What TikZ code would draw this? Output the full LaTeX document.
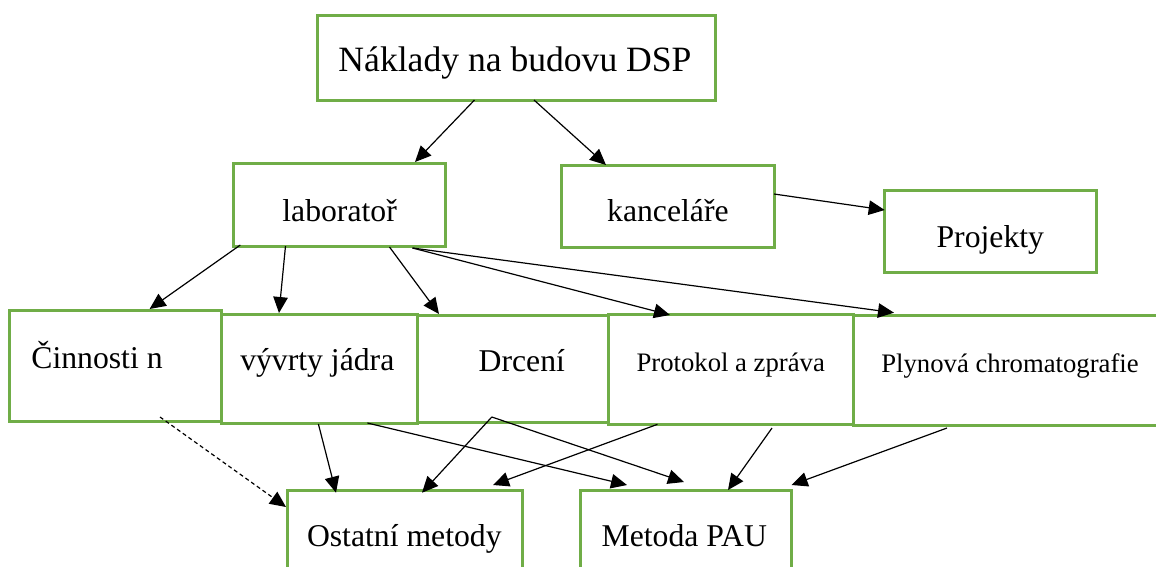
\documentclass[tikz,border=0pt]{standalone}
\usepackage{fontspec}
\setmainfont{Liberation Serif}
\usetikzlibrary{arrows.meta,calc}
\definecolor{boxgreen}{RGB}{112,173,71}
\tikzset{
  box/.style={draw=boxgreen, line width=3pt, rectangle, inner sep=0pt, outer sep=0pt, fill=white},
  txtbig/.style={inner sep=0pt, anchor=base, font=\fontsize{35.6}{40}\selectfont},
  txtmid/.style={inner sep=0pt, anchor=base, font=\fontsize{31.7}{36}\selectfont},
  txtsmall/.style={inner sep=0pt, anchor=base, font=\fontsize{26.7}{30}\selectfont},
  conn/.style={draw=black, line width=1.2pt, -{Triangle[length=16pt,width=14.5pt]}},
  dashconn/.style={conn, dash pattern=on 4pt off 3pt},
}
\begin{document}
\begin{tikzpicture}[x=1pt,y=-1pt]
\useasboundingbox (0,0) rectangle (1156,566);
\clip (0,0) rectangle (1156,566);
% boxes
\node[box, anchor=north west, minimum width=398pt, minimum height=85pt] (top) at (317,15) {};
\node[box, anchor=north west, minimum width=211.5pt, minimum height=83pt] (lab) at (233.5,163) {};
\node[box, anchor=north west, minimum width=212.4pt, minimum height=82pt] (kanc) at (561.6,165) {};
\node[box, anchor=north west, minimum width=212pt, minimum height=82pt] (proj) at (884.7,190.7) {};
\node[box, anchor=north west, minimum width=211.4pt, minimum height=111.7pt] (cinn) at (9.6,310) {};
\node[box, anchor=north west, minimum width=330pt, minimum height=109.3pt] (plyn) at (853.4,315.7) {};
\node[box, anchor=north west, minimum width=245.4pt, minimum height=110.3pt] (prot) at (608,314) {};
\node[box, anchor=north west, minimum width=191pt, minimum height=107.7pt] (drc) at (417,315) {};
\node[box, anchor=north west, minimum width=196pt, minimum height=109pt] (vyv) at (221,314) {};
\node[box, anchor=north west, minimum width=235.4pt, minimum height=110pt] (ost) at (287,490) {};
\node[box, anchor=north west, minimum width=211.6pt, minimum height=110pt] (met) at (580,490) {};
% texts
\node[txtbig] (topT) at (515,71.7) {Náklady na budovu DSP};
\node[txtmid] (labT) at (339.6,221) {laboratoř};
\node[txtmid] (kancT) at (667.9,221.7) {kanceláře};
\node[txtmid] (projT) at (990.3,247.7) {Projekty};
\node[txtmid] (cinnT) at (97,368.3) {Činnosti n};
\node[txtmid] (vyvT) at (317.3,370) {vývrty jádra};
\node[txtmid] (drcT) at (521.8,371.7) {Drcení};
\node[txtsmall] (protT) at (730.7,371.7) {Protokol a zpráva};
\node[txtsmall] (plynT) at (1010,372.3) {Plynová chromatografie};
\node[txtmid] (ostT) at (404.3,546.7) {Ostatní metody};
\node[txtmid] (metT) at (684.3,546) {Metoda PAU};
% connectors
\draw[conn] ($(top.south west)+(157.5,0)$) -- ($(lab.north west)+(181.5,-1)$);
\draw[conn] ($(top.south west)+(217,0)$) -- ($(kanc.north west)+(44.4,0)$);
\draw[conn] ($(kanc.north east)+(0,29)$) -- ($(proj.north west)+(0,19.3)$);
\draw[conn] ($(lab.south west)+(6.8,-1)$) -- ($(cinn.north west)+(140,-1)$);
\draw[conn] ($(lab.south west)+(52,0)$) -- ($(vyv.north west)+(58,-1)$);
\draw[conn] ($(lab.south west)+(156,1)$) -- ($(drc.north west)+(22,-1)$);
\draw[conn] ($(lab.south west)+(179,2)$) -- ($(prot.north west)+(62,1)$);
\draw[conn] ($(lab.south west)+(179,2)$) -- ($(plyn.north west)+(40.6,-3)$);
\draw[dashconn] ($(cinn.south west)+(150.4,-4.7)$) -- ($(ost.north west)+(-1,17)$);
\draw[conn] ($(vyv.south west)+(97.4,1)$) -- ($(ost.north west)+(49,2.7)$);
\draw[conn] ($(vyv.south west)+(146.4,0)$) -- ($(met.north west)+(47,-5)$);
\draw[conn] ($(drc.south west)+(74.8,-5.7)$) -- ($(ost.north west)+(135,2.7)$);
\draw[conn] ($(drc.south west)+(74.8,-5.7)$) -- ($(met.north west)+(104,-8)$);
\draw[conn] ($(prot.south west)+(49.5,0)$) -- ($(ost.north west)+(206,-5)$);
\draw[conn] ($(prot.south west)+(164,3.7)$) -- ($(met.north west)+(148,0)$);
\draw[conn] ($(plyn.south west)+(93.6,3)$) -- ($(met.north east)+(0,-5)$);
\end{tikzpicture}
\end{document}
